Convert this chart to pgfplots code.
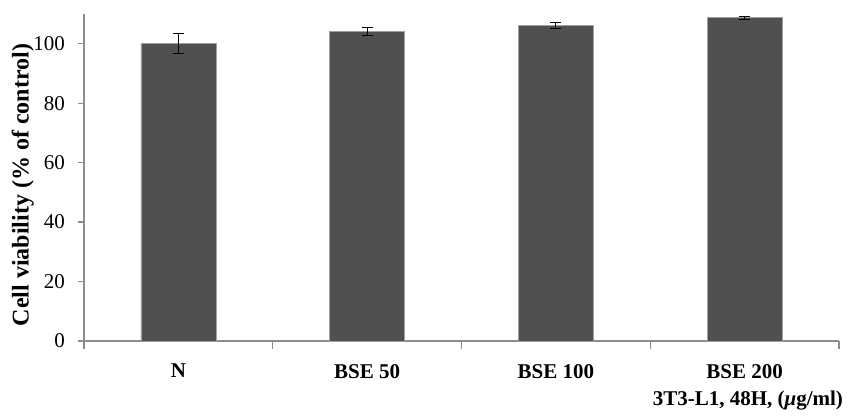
\documentclass[border=0pt]{standalone}
\usepackage{pgfplots}
\pgfplotsset{compat=1.18}
\usepackage{fontspec}
\setmainfont{Liberation Serif}
\definecolor{barfill}{HTML}{505050}
\definecolor{baredge}{HTML}{A0A0A0}
\definecolor{axgray}{HTML}{8C8C8C}
\begin{document}
\begin{tikzpicture}
\begin{axis}[
  scale only axis,
  width=377.5pt, height=163.5pt,
  xmin=-0.5, xmax=3.5,
  ymin=0, ymax=110,
  axis x line=bottom, axis y line=left,
  axis line style={axgray, line width=0.6pt, -},
  xtick={0,1,2,3},
  xticklabels={N, BSE 50, BSE 100, BSE 200},
  major x tick style={draw=none},
  minor xtick={-0.5,0.5,1.5,2.5,3.5},
  minor tick length=4pt,
  major tick length=3pt,
  tick align=outside,
  tick style={axgray, line width=0.6pt},
  ytick={0,20,40,60,80,100},
  /pgf/number format/assume math mode=true,
  tick label style={font=\fontsize{10.5}{12}\selectfont, text=black},
  x tick label style={font=\fontsize{10.5}{12}\selectfont\bfseries, yshift=-5pt},
  y tick label style={xshift=-3pt},
  xlabel={3T3-L1, 48H, ({\itshape μ}g/ml)},
  xlabel style={font=\fontsize{10.5}{12}\selectfont\bfseries, at={(axis description cs:1,0)}, anchor=north east, xshift=5.5pt, yshift=-21.5pt},
  ylabel={Cell viability (\% of control)},
  ylabel style={font=\fontsize{12}{14}\selectfont\bfseries, at={(axis description cs:-0.081,0.477)}, anchor=center, rotate=0},
  clip=false,
]
\addplot[ybar, bar width=37.5pt, fill=barfill, draw=baredge, line width=0.4pt,
  error bars/.cd, y dir=both, y explicit,
  error bar style={black, line width=0.5pt},
  error mark options={rotate=90, mark size=2.75pt, black, line width=0.5pt}]
  coordinates {
  (0,100.0) +- (0,3.4)
  (1,104.1) +- (0,1.4)
  (2,106.1) +- (0,0.9)
  (3,108.7) +- (0,0.5)
  };
\path[draw=none] (rel axis cs:-0.1113,-0.1896) rectangle (rel axis cs:1.0172,1.0428);
\end{axis}
\end{tikzpicture}
\end{document}
